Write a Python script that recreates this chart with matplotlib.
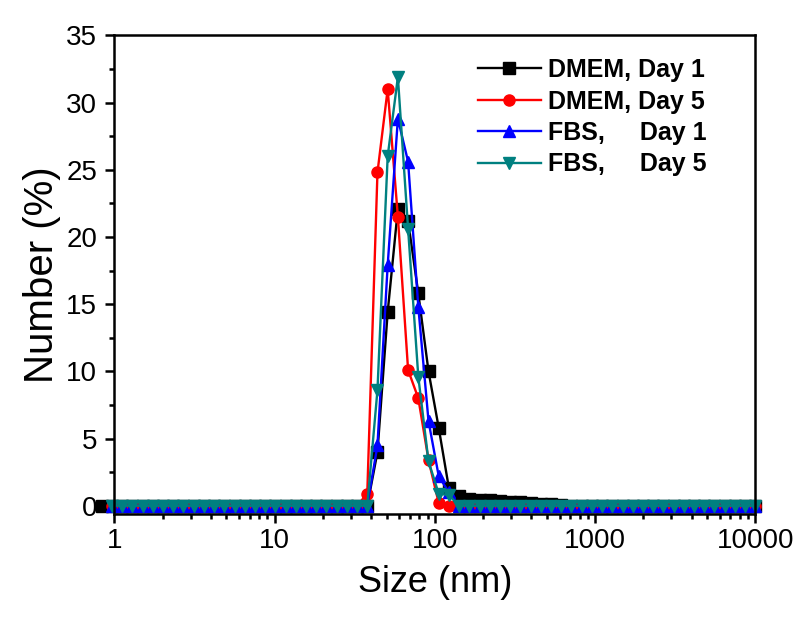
"""DLS number distribution plot"""

import matplotlib
matplotlib.use("Agg")
import matplotlib.pyplot as plt
from matplotlib.ticker import LogLocator, MultipleLocator, FixedFormatter, FixedLocator

# size bins (nm), i = 6 .. 69
SIZES = [0.9649, 1.117, 1.294, 1.499, 1.736, 2.010, 2.328, 2.696, 3.122, 3.615,
         4.187, 4.849, 5.615, 6.503, 7.531, 8.721, 10.10, 11.70, 13.54, 15.69,
         18.17, 21.04, 24.36, 28.21, 32.67, 37.84, 43.82, 50.75, 58.77, 68.06,
         78.82, 91.28, 105.7, 122.4, 141.8, 164.2, 190.1, 220.2, 255.0, 295.3,
         342.0, 396.1, 458.7, 531.2, 615.1, 712.4, 825.0, 955.4, 1106, 1281,
         1484, 1718, 1990, 2305, 2669, 3091, 3580, 4145, 4801, 5560,
         6439, 7456, 8635, 10000]

DMEM_D1 = [0, 0, 0, 0, 0, 0, 0, 0, 0, 0,
           0, 0, 0, 0, 0, 0, 0, 0, 0, 0,
           0, 0, 0, 0, 0, 0, 4.0, 14.4, 22.1, 21.2,
           15.8, 10.0, 5.8, 1.3, 0.7, 0.5, 0.45, 0.4, 0.35, 0.3,
           0.25, 0.2, 0.15, 0.1, 0.05, 0, 0, 0, 0, 0,
           0, 0, 0, 0, 0, 0, 0, 0, 0, 0,
           0, 0, 0, 0]
DMEM_D5 = [0, 0, 0, 0, 0, 0, 0, 0, 0, 0,
           0, 0, 0, 0, 0, 0, 0, 0, 0, 0,
           0, 0, 0, 0, 0, 0.9, 24.8, 31.0, 21.5, 10.1,
           8.0, 3.4, 0.2, 0, 0, 0, 0, 0, 0, 0,
           0, 0, 0, 0, 0, 0, 0, 0, 0, 0,
           0, 0, 0, 0, 0, 0, 0, 0, 0, 0,
           0, 0, 0, 0]
FBS_D1 = [0, 0, 0, 0, 0, 0, 0, 0, 0, 0,
          0, 0, 0, 0, 0, 0, 0, 0, 0, 0,
          0, 0, 0, 0, 0, 0, 4.5, 17.9, 28.8, 25.6,
          14.8, 6.3, 2.2, 1.0, 0, 0, 0, 0, 0, 0,
          0, 0, 0, 0, 0, 0, 0, 0, 0, 0,
          0, 0, 0, 0, 0, 0, 0, 0, 0, 0,
          0, 0, 0, 0]
FBS_D5 = [0, 0, 0, 0, 0, 0, 0, 0, 0, 0,
          0, 0, 0, 0, 0, 0, 0, 0, 0, 0,
          0, 0, 0, 0, 0, 0, 8.6, 26.0, 31.9, 20.6,
          9.6, 3.3, 0.9, 0.8, 0, 0, 0, 0, 0, 0,
          0, 0, 0, 0, 0, 0, 0, 0, 0, 0,
          0, 0, 0, 0, 0, 0, 0, 0, 0, 0,
          0, 0, 0, 0]

# extra bin only seen for the black series
EXTRA_SIZE = [0.8332]
EXTRA_D1 = [0]

LABELS = ["DMEM, Day 1", "DMEM, Day 5", "FBS,     Day 1", "FBS,     Day 5"]
XTICKS = [1, 10, 100, 1000, 10000]
XTICKLABELS = ["1", "10", "100", "1000", "10000"]

plt.rcParams['font.family'] = ['Liberation Sans', 'DejaVu Sans']

fig = plt.figure(figsize=(7.95, 6.21), dpi=100)
ax = fig.add_axes([0.144, 0.1715, 0.806, 0.7715])

series = [
    (EXTRA_SIZE + SIZES, EXTRA_D1 + DMEM_D1, "black", "s"),
    (SIZES, DMEM_D5, "#ff0000", "o"),
    (SIZES, FBS_D1, "#0000ff", "^"),
    (SIZES, FBS_D5, "#008080", "v"),
]
for (xs, ys, col, mk), lab in zip(series, LABELS):
    ax.plot(xs, ys, color=col, marker=mk, markersize=8, lw=1.7,
            label=lab, clip_on=False)

ax.set_xscale("log")
ax.set_xlim(1, 10000)
ax.set_ylim(-0.65, 35)

ax.xaxis.set_major_locator(FixedLocator(XTICKS))
ax.xaxis.set_major_formatter(FixedFormatter(XTICKLABELS))
ax.xaxis.set_minor_locator(LogLocator(base=10, subs=range(2, 10), numticks=20))
ax.xaxis.set_minor_formatter(FixedFormatter([]))
ax.yaxis.set_major_locator(MultipleLocator(5))
ax.yaxis.set_minor_locator(MultipleLocator(2.5))

for s in ax.spines.values():
    s.set_linewidth(1.8)
ax.tick_params(which="major", direction="out", length=6.5, width=1.8,
               labelsize=20, top=False, right=False)
ax.tick_params(which="minor", direction="out", length=3.5, width=1.8,
               top=False, right=False)
ax.tick_params(axis="x", which="major", pad=3)
ax.tick_params(axis="y", which="major", pad=6)

ax.set_xlabel("Size (nm)", fontsize=26, labelpad=8)
ax.set_ylabel("Number (%)", fontsize=29, labelpad=4)

leg = ax.legend(loc="upper left", bbox_to_anchor=(478 / 795, 1 - 58 / 621),
                bbox_transform=fig.transFigure, frameon=False,
                prop={"weight": "bold", "size": 18}, handlelength=2.5,
                handletextpad=0.3, labelspacing=0.3, borderpad=0,
                borderaxespad=0)

fig.savefig("out.png", dpi=100)
